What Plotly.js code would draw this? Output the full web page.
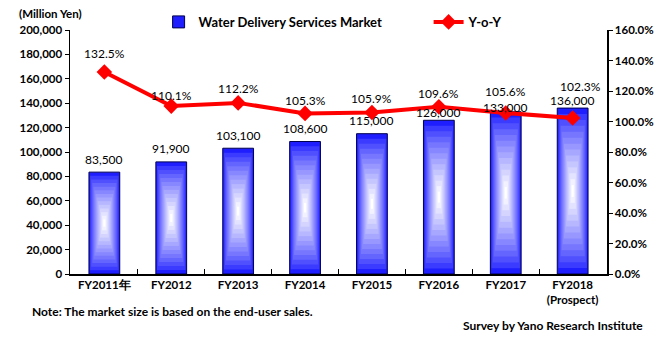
<!DOCTYPE html>
<html>
<head>
<meta charset="utf-8">
<script src="https://cdn.plot.ly/plotly-3.0.1.min.js"></script>
<style>html,body{margin:0;padding:0;background:#fff}#chart{width:668px;height:341px}</style>
</head>
<body>
<div id="chart"></div>
<script>
// ---- data ----
var categories = ["FY2011年", "FY2012", "FY2013", "FY2014", "FY2015", "FY2016", "FY2017", "FY2018<br>(Prospect)"];
var marketValues = [83500, 91900, 103100, 108600, 115000, 126000, 133000, 136000];
var marketLabels = ["83,500", "91,900", "103,100", "108,600", "115,000", "126,000", "133,000", "136,000"];
var yoyValues = [132.5, 110.1, 112.2, 105.3, 105.9, 109.6, 105.6, 102.3];
var yoyLabels = ["132.5%", "110.1%", "112.2%", "105.3%", "105.9%", "109.6%", "105.6%", "102.3%"];
var leftTicks = [0, 20000, 40000, 60000, 80000, 100000, 120000, 140000, 160000, 180000, 200000];
var rightTicks = [0, 0.2, 0.4, 0.6, 0.8, 1.0, 1.2, 1.4, 1.6];

// ---- styling ----
var FONT = "Lato, 'DejaVu Sans', sans-serif";
var barShift = [13, 13, 13, 13, 13, 8, 4, 8];
var yoyShift = [18, 11, 14, 13, 14, 13, 21, 31];
var yoyXShift = [0, 0, 0, 0, 0, 0, 0, 8];
var BAR_W = 0.46;
var N = 14;

var traces = [];
for (var i = 0; i < N; i++) {
  var f = i / N;
  var t = Math.pow(i / (N - 1), 0.8);
  var r = Math.round(30 + (255 - 30) * t);
  var g = Math.round(30 + (255 - 30) * t);
  var b = 255;
  traces.push({
    type: "bar",
    name: "Water Delivery Services Market",
    x: categories,
    y: marketValues.map(function (v) { return v * (1 - f); }),
    base: marketValues.map(function (v) { return v * f / 2; }),
    width: BAR_W * (1 - f),
    marker: {
      color: "rgb(" + r + "," + g + "," + b + ")",
      line: { color: i === 0 ? "#000050" : "rgba(0,0,0,0)", width: i === 0 ? 1 : 0 }
    },
    showlegend: i === 0,
    hoverinfo: "skip",
    yaxis: "y"
  });
}
traces.push({
  type: "scatter",
  mode: "lines+markers",
  name: "Y-o-Y",
  x: categories,
  y: yoyValues.map(function (v) { return v / 100; }),
  yaxis: "y2",
  line: { color: "#ff0000", width: 4 },
  marker: { symbol: "diamond", size: 12, color: "#ff0000" }
});

var annotations = [];
for (var k = 0; k < categories.length; k++) {
  annotations.push({
    x: categories[k], y: marketValues[k], xref: "x", yref: "y",
    text: marketLabels[k], showarrow: false, yanchor: "middle", yshift: barShift[k],
    font: { family: FONT, size: 12, color: "#000" }
  });
  annotations.push({
    x: categories[k], y: yoyValues[k] / 100, xref: "x", yref: "y2",
    text: yoyLabels[k], showarrow: false, yanchor: "middle", yshift: yoyShift[k], xshift: yoyXShift[k],
    font: { family: FONT, size: 12, color: "#000" }
  });
}
annotations.push({
  xref: "paper", yref: "paper", x: -0.0987, y: 1.0656, xanchor: "left", yanchor: "middle",
  text: "<b>(Million Yen)</b>", showarrow: false, font: { family: FONT, size: 11.5, color: "#000" }
});
annotations.push({
  xref: "paper", yref: "paper", x: -0.0745, y: -0.1557, xanchor: "left", yanchor: "middle",
  text: "<b>Note: The market size is based on the end-user sales.</b>", showarrow: false,
  font: { family: FONT, size: 12, color: "#000" }
});
annotations.push({
  xref: "paper", yref: "paper", x: 1.0708, y: -0.2131, xanchor: "right", yanchor: "middle",
  text: "<b>Survey by Yano Research Institute</b>", showarrow: false,
  font: { family: FONT, size: 12, color: "#000" }
});

var layout = {
  width: 668, height: 341,
  margin: { l: 70, r: 61, t: 30, b: 67, autoexpand: false },
  paper_bgcolor: "#fff", plot_bgcolor: "#fff",
  barmode: "overlay",
  font: { family: FONT, size: 11, color: "#000" },
  showlegend: true,
  legend: {
    orientation: "h", x: 0.165, y: 1.033, xanchor: "left", yanchor: "middle",
    font: { family: FONT, size: 13, color: "#000", weight: "bold" },
    bgcolor: "rgba(0,0,0,0)", traceorder: "normal", entrywidth: 225, entrywidthmode: "pixels"
  },
  xaxis: {
    type: "category", showline: true, linecolor: "#000", linewidth: 1.5,
    ticks: "inside", tickson: "boundaries", ticklen: 5, tickcolor: "#000",
    showgrid: false, zeroline: false,
    tickfont: { family: FONT, size: 11.5, color: "#000", weight: "bold" }
  },
  yaxis: {
    range: [0, 200000], tickvals: leftTicks, tickformat: ",d",
    showline: true, linecolor: "#000", linewidth: 1.5,
    ticks: "outside", ticklen: 4, tickcolor: "#000",
    showgrid: false, zeroline: false,
    tickfont: { family: FONT, size: 11.5, color: "#000", weight: "bold" }
  },
  yaxis2: {
    overlaying: "y", side: "right", range: [0, 1.6], tickvals: rightTicks, tickformat: ".1%",
    showline: true, linecolor: "#000", linewidth: 1.5,
    ticks: "outside", ticklen: 4, tickcolor: "#000",
    showgrid: false, zeroline: false,
    tickfont: { family: FONT, size: 11.5, color: "#000", weight: "bold" }
  },
  annotations: annotations
};

Plotly.newPlot("chart", traces, layout, { staticPlot: true, displayModeBar: false });
</script>
</body>
</html>
